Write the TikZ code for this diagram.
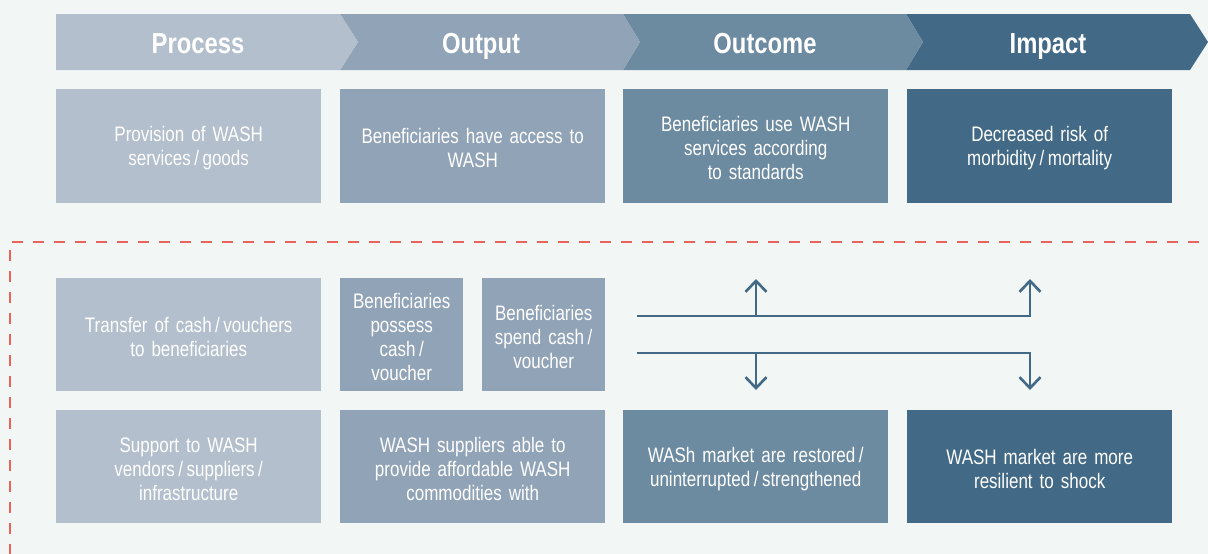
\documentclass[tikz,border=0pt]{standalone}
\usepackage{fontspec}
\setmainfont{Liberation Sans}
\newfontfamily\bodyfont[FakeStretch=0.81,WordSpace=0.7]{Liberation Sans}
\newfontfamily\headfont[FakeStretch=0.82,WordSpace=0.8]{Liberation Sans}
\usetikzlibrary{arrows.meta}
\definecolor{bgc}{HTML}{F2F6F5}
\definecolor{cproc}{HTML}{B3BFCC}
\definecolor{cout}{HTML}{91A3B7}
\definecolor{coutc}{HTML}{6C8AA0}
\definecolor{cimp}{HTML}{426985}
\definecolor{cred}{HTML}{E8645A}
\tikzset{
  box/.style={draw=none, anchor=north west, inner sep=0pt, align=center,
    text=white, font=\bodyfont\fontsize{21}{24}\selectfont},
  wbox/.style={box, minimum width=265pt, minimum height=114pt, text width=250pt},
  nbox/.style={box, minimum width=123pt, minimum height=113pt, text width=118pt},
  head/.style={text=white, font=\headfont\bfseries\fontsize{29}{32}\selectfont, inner sep=0pt, anchor=base},
  flow/.style={draw=cimp, line width=2.6pt, line cap=butt, line join=miter},
  flowtip/.style={flow, -{Straight Barb[length=11pt,width=21pt,line width=2.6pt]}},
  redline/.style={draw=cred, line width=2.6pt, dash pattern=on 11pt off 10pt}
}
\begin{document}
\begin{tikzpicture}[x=1pt,y=-1pt]
\fill[bgc] (0,0) rectangle (1208,554);
\useasboundingbox (0,0) rectangle (1208,554);
% header chevrons
\fill[cimp] (906,14) -- (1190,14) -- (1208,42) -- (1190,70) -- (906,70) -- (923,42) -- cycle;
\fill[coutc] (623,14) -- (906,14) -- (923,42) -- (906,70) -- (623,70) -- (640,42) -- cycle;
\fill[cout] (340,14) -- (623,14) -- (640,42) -- (623,70) -- (340,70) -- (358,42) -- cycle;
\fill[cproc] (56,14) -- (340,14) -- (358,42) -- (340,70) -- (56,70) -- cycle;
\node[head] (hproc) at (198,53) {Process};
\node[head] (hout) at (481,53) {Output};
\node[head] (houtc) at (765,53) {Outcome};
\node[head] (himp) at (1048,53) {Impact};
% top row
\node[wbox, fill=cproc] (t1) at (56,89) {\rule{0pt}{19pt}Provision of WASH\\services\,/\,goods};
\node[wbox, fill=cout] (t2) at (340,89) {\rule{0pt}{19pt}Beneficiaries have access to\\WASH};
\node[wbox, fill=coutc] (t3) at (623,89) {\rule{0pt}{19pt}Beneficiaries use WASH\\services according\\to standards};
\node[wbox, fill=cimp] (t4) at (907,89) {\rule{0pt}{19pt}Decreased risk of\\morbidity\,/\,mortality};
% dashed frame
\coordinate (rA) at (10,555);
\coordinate (rB) at (10,242);
\coordinate (rC) at (1210,242);
\draw[redline] (rA) -- (rB) -- (rC);
% middle row
\node[wbox, fill=cproc, minimum height=113pt] (m1) at (56,278) {\rule{0pt}{19pt}Transfer of cash\,/\,vouchers\\to beneficiaries};
\node[nbox, fill=cout] (m2) at (340,278) {\rule{0pt}{19pt}Beneficiaries\\possess\\cash\,/\\voucher};
\node[nbox, fill=cout] (m3) at (482,278) {\rule{0pt}{19pt}Beneficiaries\\spend cash\,/\\voucher};
% arrows
\coordinate (u0) at (637,316);
\coordinate (u1) at (756,316);
\coordinate (u1t) at (756,279);
\coordinate (u2) at (1030,316);
\coordinate (u2t) at (1030,279);
\coordinate (d0) at (637,353);
\coordinate (d1) at (756,353);
\coordinate (d1t) at (756,390);
\coordinate (d2) at (1030,353);
\coordinate (d2t) at (1030,390);
\draw[flowtip] (u0) -- (u2) -- (u2t);
\draw[flowtip] (u1) -- (u1t);
\draw[flowtip] (d0) -- (d2) -- (d2t);
\draw[flowtip] (d1) -- (d1t);
% bottom row
\node[wbox, fill=cproc, minimum height=113pt] (b1) at (56,410) {\rule{0pt}{19pt}Support to WASH\\vendors\,/\,suppliers\,/\\infrastructure};
\node[wbox, fill=cout, minimum height=113pt] (b2) at (340,410) {\rule{0pt}{19pt}WASH suppliers able to\\provide affordable WASH\\commodities with};
\node[wbox, fill=coutc, minimum height=113pt] (b3) at (623,410) {\rule{0pt}{19pt}WASh market are restored\,/\\uninterrupted\,/\,strengthened};
\node[wbox, fill=cimp, minimum height=113pt] (b4) at (907,410) {\rule{0pt}{19pt}WASH market are more\\resilient to shock};
\end{tikzpicture}
\end{document}
